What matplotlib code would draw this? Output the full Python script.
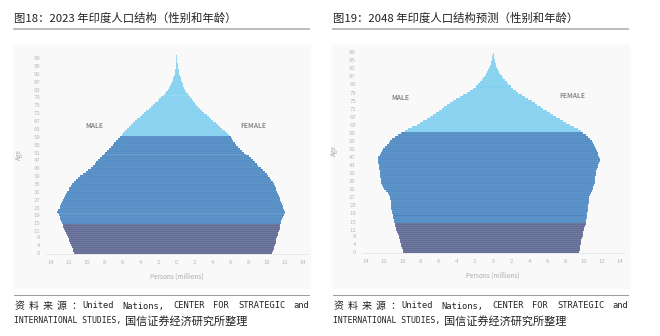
import numpy as np
import matplotlib.pyplot as plt
from matplotlib.patches import Rectangle
from matplotlib.lines import Line2D

plt.rcParams['font.family'] = ['Noto Sans CJK SC', 'DejaVu Sans']

# single-year ages 0..100, persons in millions
ages = np.arange(0, 101)

male_2023 = [11.4, 11.5, 11.5, 11.6, 11.7, 11.8, 11.9, 12.0, 12.1, 12.2,
             12.3, 12.4, 12.5, 12.6, 12.65, 12.75, 12.8, 12.9, 13.0, 13.1,
             13.2, 13.3, 13.2, 13.0, 12.9, 12.8, 12.7, 12.6, 12.5, 12.4,
             12.3, 12.15, 12.0, 11.9, 11.75, 11.6, 11.4, 11.2, 11.0, 10.7,
             10.4, 10.1, 9.8, 9.5, 9.3, 9.1, 8.9, 8.7, 8.5, 8.3,
             8.1, 7.9, 7.7, 7.5, 7.3, 7.1, 6.9, 6.7, 6.5, 6.3,
             6.1, 5.9, 5.7, 5.5, 5.3, 5.1, 4.85, 4.6, 4.35, 4.1,
             3.85, 3.6, 3.35, 3.1, 2.85, 2.6, 2.35, 2.1, 1.9, 1.7,
             1.5, 1.3, 1.15, 1.0, 0.85, 0.72, 0.6, 0.5, 0.42, 0.35,
             0.28, 0.22, 0.17, 0.13, 0.1, 0.08, 0.06, 0.04, 0.03, 0.02,
             0.01]
female_2023 = [10.6, 10.7, 10.8, 10.85, 10.9, 11.0, 11.05, 11.1, 11.2, 11.25,
               11.3, 11.4, 11.45, 11.5, 11.55, 11.6, 11.65, 11.7, 11.8, 11.9,
               12.0, 12.05, 11.95, 11.85, 11.8, 11.7, 11.6, 11.55, 11.5, 11.4,
               11.3, 11.2, 11.1, 11.0, 10.9, 10.8, 10.7, 10.55, 10.4, 10.2,
               10.0, 9.8, 9.6, 9.35, 9.1, 8.9, 8.7, 8.5, 8.25, 8.0,
               7.75, 7.5, 7.25, 7.0, 6.8, 6.6, 6.45, 6.3, 6.15, 6.0,
               5.8, 5.6, 5.35, 5.1, 4.85, 4.6, 4.35, 4.1, 3.85, 3.6,
               3.35, 3.1, 2.85, 2.6, 2.4, 2.2, 2.0, 1.85, 1.7, 1.55,
               1.4, 1.25, 1.1, 0.98, 0.87, 0.77, 0.68, 0.6, 0.52, 0.45,
               0.39, 0.33, 0.28, 0.24, 0.2, 0.16, 0.13, 0.1, 0.07, 0.05,
               0.03]
male_2048 = [9.9, 9.95, 10.0, 10.1, 10.15, 10.2, 10.25, 10.35, 10.4, 10.5,
             10.6, 10.7, 10.75, 10.8, 10.85, 10.9, 10.95, 11.0, 11.05, 11.1,
             11.15, 11.2, 11.2, 11.25, 11.3, 11.3, 11.35, 11.35, 11.45, 11.55,
             11.8, 12.0, 12.1, 12.2, 12.3, 12.4, 12.4, 12.45, 12.45, 12.45,
             12.5, 12.55, 12.6, 12.6, 12.65, 12.7, 12.7, 12.65, 12.5, 12.4,
             12.25, 12.1, 11.9, 11.7, 11.5, 11.35, 11.1, 10.8, 10.45, 10.1,
             9.7, 9.35, 8.9, 8.4, 8.05, 7.7, 7.3, 6.95, 6.6, 6.3,
             5.95, 5.65, 5.35, 5.05, 4.7, 4.4, 4.05, 3.65, 3.3, 2.9,
             2.55, 2.2, 1.9, 1.6, 1.4, 1.2, 1.05, 0.9, 0.75, 0.62,
             0.5, 0.4, 0.32, 0.25, 0.2, 0.15, 0.11, 0.08, 0.05, 0.03,
             0.02]
female_2048 = [9.5, 9.55, 9.6, 9.6, 9.65, 9.7, 9.75, 9.85, 9.9, 9.95,
               9.95, 10.0, 10.05, 10.15, 10.2, 10.25, 10.3, 10.35, 10.35, 10.4,
               10.45, 10.45, 10.5, 10.5, 10.55, 10.55, 10.6, 10.6, 10.7, 10.8,
               10.9, 11.0, 11.05, 11.15, 11.2, 11.25, 11.3, 11.3, 11.35, 11.35,
               11.4, 11.45, 11.55, 11.6, 11.7, 11.8, 11.75, 11.7, 11.6, 11.55,
               11.5, 11.4, 11.3, 11.15, 11.05, 10.9, 10.7, 10.5, 10.25, 9.95,
               9.7, 9.4, 8.95, 8.5, 8.1, 7.75, 7.4, 7.0, 6.65, 6.3,
               5.9, 5.55, 5.25, 4.9, 4.6, 4.25, 3.9, 3.5, 3.15, 2.8,
               2.5, 2.2, 1.95, 1.7, 1.5, 1.3, 1.1, 0.95, 0.8, 0.65,
               0.52, 0.4, 0.33, 0.28, 0.24, 0.2, 0.15, 0.1, 0.07, 0.04,
               0.02]

age_ticks = [0, 4, 8, 11, 15, 19, 23, 27, 31, 35, 39, 43, 47, 51, 55, 59,
             63, 67, 71, 75, 79, 83, 87, 91, 95, 99]
x_ticks = [-14, -12, -10, -8, -6, -4, -2, 0, 2, 4, 6, 8, 10, 12, 14]

titles = ['图18：2023 年印度人口结构（性别和年龄）',
          '图19：2048 年印度人口结构预测（性别和年龄）']

c_young = '#5a6590'
c_work = '#4a86c2'
c_old = '#7fd0f0'
tick_col = '#b8b8b8'


def band_colors(a):
    return [c_young if x < 15 else (c_work if x < 60 else c_old) for x in a]


def pyramid(ax, male, female, male_pos, female_pos):
    male = np.array(male)
    female = np.array(female)
    # one bar per age, male to the left of zero and female to the right
    ax.barh(ages, male + female, left=-male, height=1.0,
            color=band_colors(ages), edgecolor=(1, 1, 1, 0.45), linewidth=0.2)
    ax.set_xlim(-14.5, 14.5)
    ax.set_ylim(-0.6, 100.6)
    ax.set_xticks(x_ticks)
    ax.set_xticklabels([str(abs(v)) for v in x_ticks])
    ax.set_yticks(age_ticks)
    ax.tick_params(length=0, labelsize=4.3, colors=tick_col, pad=4)
    for s in ['top', 'right', 'left']:
        ax.spines[s].set_visible(False)
    ax.spines['bottom'].set_color('#e6e6e6')
    ax.spines['bottom'].set_linewidth(0.6)
    ax.set_facecolor('none')
    ax.set_xlabel('Persons (millions)', fontsize=4.6, color='#aaaaaa', labelpad=6)
    ax.set_ylabel('Age', fontsize=4.6, color='#aaaaaa', labelpad=8)
    ax.text(male_pos[0], male_pos[1], 'MALE', fontsize=4.8, color='#8a8a8a',
            fontweight='bold', ha='center', va='center')
    ax.text(female_pos[0], female_pos[1], 'FEMALE', fontsize=4.8, color='#8a8a8a',
            fontweight='bold', ha='center', va='center')


fig = plt.figure(figsize=(6.6, 3.36), dpi=100)
W, H = 660.0, 336.0

# light panels behind the charts
for x0 in [13, 332]:
    fig.patches.append(Rectangle((x0 / W, 1 - 288 / H), 297 / W, 243 / H,
                                 transform=fig.transFigure, color='#f9f9f9',
                                 zorder=-10))

ax1 = fig.add_axes([46 / W, 1 - 254 / H, 261 / W, 199 / H])
pyramid(ax1, male_2023, female_2023, (-9.1, 64.5), (8.5, 65))

ax2 = fig.add_axes([361.5 / W, 1 - 253 / H, 263 / W, 204 / H])
pyramid(ax2, male_2048, female_2048, (-10.2, 76.5), (8.8, 77.5))

for i, x0 in enumerate([14, 333]):
    fig.text(x0 / W, 1 - 18 / H, titles[i], fontsize=8.2, color='#222222',
             va='center', ha='left', fontweight='medium')
    fig.add_artist(Line2D([x0 / W, (x0 + 295) / W], [1 - 29 / H] * 2,
                          color='#b5b5b5', lw=1.3, transform=fig.transFigure))
    fig.add_artist(Line2D([x0 / W, (x0 + 295) / W], [1 - 295 / H] * 2,
                          color='#9a9a9a', lw=0.7, transform=fig.transFigure))
    # justified first source line
    words = [('资', 1), ('料', 15), ('来', 29), ('源', 43), ('：', 57),
             ('United', 68), ('Nations,', 108), ('CENTER', 159),
             ('FOR', 199), ('STRATEGIC', 224), ('and', 279)]
    for w, dx in words:
        cjk = ord(w[0]) > 255
        fig.text((x0 + dx) / W, 1 - 306 / H, w, fontsize=7.2 if cjk else 6.3,
                 family='Noto Sans CJK SC' if cjk else 'DejaVu Sans Mono',
                 color='#222222', va='center', ha='left')
    fig.text(x0 / W, 1 - 321 / H, 'INTERNATIONAL STUDIES,', fontsize=5.9,
             family='DejaVu Sans Mono', color='#222222', va='center', ha='left')
    fig.text((x0 + 111) / W, 1 - 321 / H, '国信证券经济研究所整理', fontsize=8.0,
             family='Noto Sans CJK SC', color='#222222', va='center', ha='left')

fig.savefig('out.png', dpi=100)
